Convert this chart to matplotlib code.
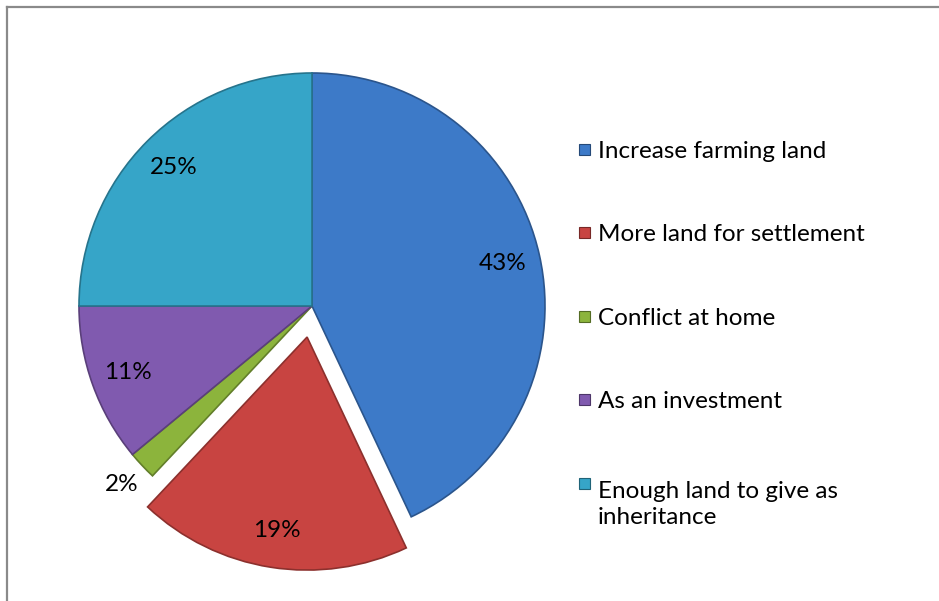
import numpy as np
import matplotlib
matplotlib.use("Agg")
import matplotlib.pyplot as plt
from matplotlib.patches import Rectangle
from matplotlib.lines import Line2D
from matplotlib.colors import to_rgb

# ---- data ----
labels = ["Increase farming land", "More land for settlement", "Conflict at home",
          "As an investment", "Enough land to give as\ninheritance"]
shares = [43, 19, 2, 11, 25]
colors = ["#3D7AC8", "#C84441", "#8CB43C", "#805AAF", "#36A5C8"]
explode_frac = [0, 0.135, 0, 0, 0]

plt.rcParams['font.family'] = ['Lato', 'DejaVu Sans']

W, H = 939, 601
fig = plt.figure(figsize=(W / 100, H / 100), dpi=100)
ax = fig.add_axes([0, 0, 1, 1])


def darker(c, f=0.75):
    r, g, b = to_rgb(c)
    return (r * f, g * f, b * f)


# pie, drawn in pixel units (y up); explode is in data units, so scale by radius
cx, cy, r = 312, H - 306, 233
wedges, texts, autotexts = ax.pie(
    shares, colors=colors, explode=[e * r for e in explode_frac], startangle=90,
    counterclock=False, center=(cx, cy), radius=r, autopct="%1.0f%%", pctdistance=0.84,
    wedgeprops=dict(linewidth=1.2), textprops=dict(fontsize=17.5, color="black"))
for w, c in zip(wedges, colors):
    w.set_edgecolor(darker(c, 0.7))

# the tiny slice gets its label outside
small = int(np.argmin(shares))
w = wedges[small]
mid = np.radians((w.theta1 + w.theta2) / 2)
autotexts[small].set_position((cx + 1.12 * r * np.cos(mid), cy + 1.12 * r * np.sin(mid)))

ax.set_xlim(0, W)
ax.set_ylim(0, H)
ax.set_aspect("equal")
ax.axis("off")

# legend on the right
base_y = [158, 241, 325, 408, 492]
line_gap = 32
for lab, c, by in zip(labels, colors, base_y):
    nlines = lab.count("\n")
    ax.add_patch(Rectangle((579, H - by + 3), 11, 11, facecolor=c,
                           edgecolor=darker(c, 0.6), linewidth=0.8))
    # baseline alignment of multi-line text uses the last line
    ax.text(598, H - by - nlines * line_gap, lab, fontsize=17.5, ha="left",
            va="baseline", linespacing=1.32, color="black")

# chart area frame (only top and left edges visible)
fig.add_artist(Line2D([6.5 / W, 1], [1 - 6.5 / H, 1 - 6.5 / H], transform=fig.transFigure,
                      color="#8A8A8A", linewidth=1.6))
fig.add_artist(Line2D([6.5 / W, 6.5 / W], [0, 1 - 6.5 / H], transform=fig.transFigure,
                      color="#8A8A8A", linewidth=1.6))

fig.savefig("out.png", dpi=100)
